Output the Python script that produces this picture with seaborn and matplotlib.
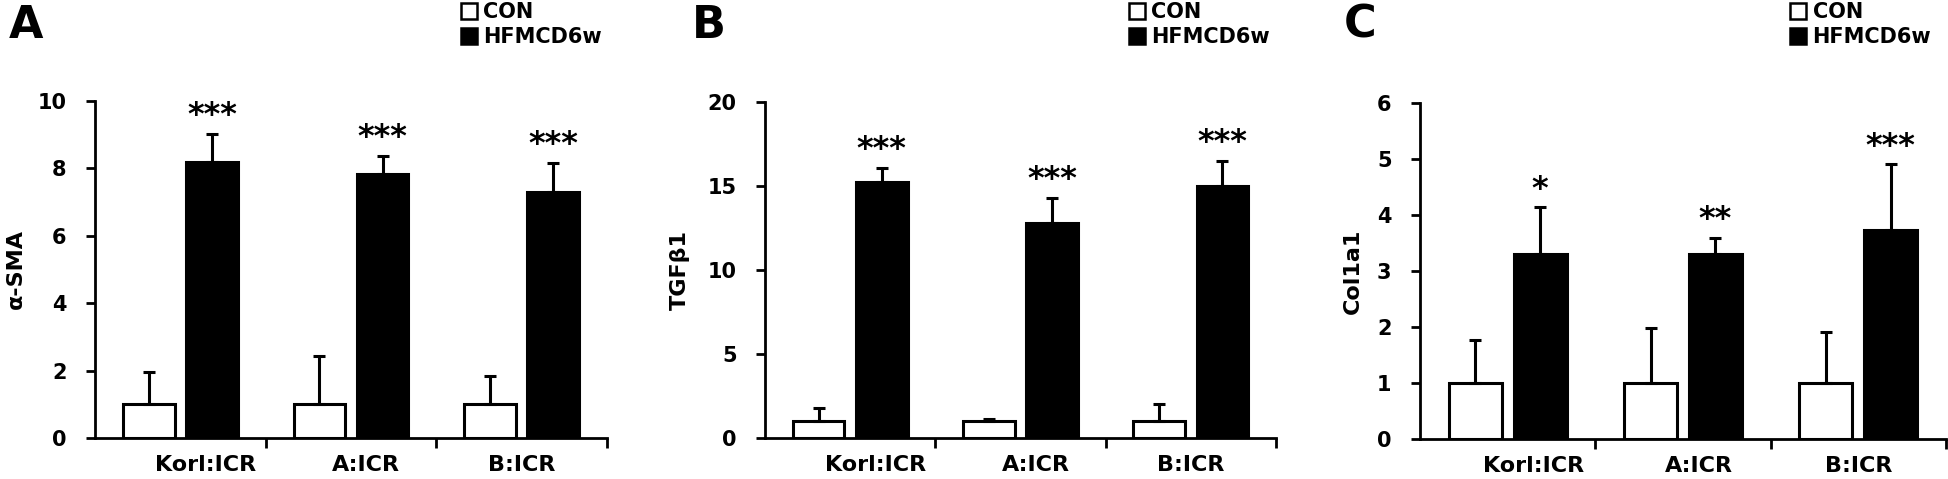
import numpy as np
import pandas as pd
import matplotlib
matplotlib.use("Agg")
import matplotlib.pyplot as plt
from matplotlib.patches import Patch
import seaborn as sns

strains = ["Korl:ICR", "A:ICR", "B:ICR"]
groups = ["CON", "HFMCD6w"]

asma_con = [1.0, 1.0, 1.0]
asma_con_sd = [0.95, 1.42, 0.83]
asma_hf = [8.17, 7.82, 7.28]
asma_hf_sd = [0.85, 0.55, 0.88]
asma_sig = ["***", "***", "***"]

tgf_con = [1.0, 1.0, 1.0]
tgf_con_sd = [0.78, 0.15, 1.02]
tgf_hf = [15.2, 12.77, 14.99]
tgf_hf_sd = [0.88, 1.49, 1.49]
tgf_sig = ["***", "***", "***"]

col_con = [1.0, 1.0, 1.0]
col_con_sd = [0.77, 0.99, 0.91]
col_hf = [3.31, 3.31, 3.74]
col_hf_sd = [0.83, 0.28, 1.17]
col_sig = ["*", "**", "***"]

panels = [
    dict(letter="A", ylabel="α-SMA", ymax=10, step=2,
         con=asma_con, con_sd=asma_con_sd, hf=asma_hf, hf_sd=asma_hf_sd, sig=asma_sig),
    dict(letter="B", ylabel="TGFβ1", ymax=20, step=5,
         con=tgf_con, con_sd=tgf_con_sd, hf=tgf_hf, hf_sd=tgf_hf_sd, sig=tgf_sig),
    dict(letter="C", ylabel="Col1a1", ymax=6, step=1,
         con=col_con, con_sd=col_con_sd, hf=col_hf, hf_sd=col_hf_sd, sig=col_sig),
]

sns.set_theme(style="ticks")
FAM = ["DejaVu Sans"]
plt.rcParams["font.family"] = FAM
plt.rcParams["font.weight"] = "bold"
for key in ["text.color", "axes.labelcolor", "xtick.color", "ytick.color",
            "xtick.labelcolor", "ytick.labelcolor", "axes.edgecolor"]:
    plt.rcParams[key] = "black"

W, H = 1948, 479
fig = plt.figure(figsize=(W / 100, H / 100), dpi=100)

# layout in pixels: axes (left, right, top, bottom), legend anchor, letter, ylabel right edge
boxes = [(95, 607, 100.7, 438), (765, 1276, 101.7, 438), (1420, 1946, 103.3, 439.3)]
legend_px = [(461, 2), (1129, 2), (1790, 2)]
letter_px = [(9, 38), (692, 38), (1344, 38)]
ylabel_px = [26, 690, 1363]
label_offsets = [0.15, 0.09, 0.0]

lw = 2.2
for p, (l, r, t, b), (lx, ly), (tx, ty), yl in zip(panels, boxes, legend_px, letter_px, ylabel_px):
    ax = fig.add_axes([l / W, 1 - b / H, (r - l) / W, (b - t) / H])
    df = pd.DataFrame({
        "strain": strains * 2,
        "group": [groups[0]] * 3 + [groups[1]] * 3,
        "value": p["con"] + p["hf"],
    })
    sns.barplot(data=df, x="strain", y="value", hue="group", hue_order=groups,
                order=strains, palette={"CON": "white", "HFMCD6w": "black"},
                edgecolor="black", linewidth=lw, width=0.74, gap=0.18,
                errorbar=None, saturation=1, legend=False, ax=ax)
    sds = [p["con_sd"], p["hf_sd"]]
    bar_conts = list(ax.containers)[:2]
    for gi, cont in enumerate(bar_conts):
        for j, bar in enumerate(list(cont.patches)):
            x = bar.get_x() + bar.get_width() / 2
            h = bar.get_height()
            sd = sds[gi][j]
            ax.errorbar(x, h, yerr=[[0], [sd]], fmt="none", ecolor="black",
                        elinewidth=lw, capsize=4, capthick=lw, zorder=1)
            if gi == 1:
                ax.annotate(p["sig"][j], xy=(x, h + sd), xytext=(0, 2),
                            textcoords="offset points", ha="center", va="bottom",
                            fontsize=23, fontweight="bold", color="black")
    ax.set_xlim(-0.5, 2.5)
    ax.set_ylim(0, p["ymax"])
    ax.set_yticks(np.arange(0, p["ymax"] + p["step"] / 2, p["step"]))
    ax.set_xticks([i + o for i, o in enumerate(label_offsets)])
    ax.set_xticklabels(strains, fontsize=16, fontweight="bold", color="black")
    ax.set_xticks([0.5, 1.5, 2.5], minor=True)
    ax.tick_params(axis="x", which="major", length=0, pad=12, labelcolor="black")
    ax.tick_params(axis="x", which="minor", length=7, width=2, color="black", direction="out")
    ax.tick_params(axis="y", length=6.5, width=2, color="black", direction="out", pad=14,
                   labelsize=15, labelcolor="black")
    for lab in ax.get_yticklabels():
        lab.set_fontweight("bold")
    ax.set_xlabel("")
    ax.set_ylabel(p["ylabel"], fontsize=16, fontweight="bold", color="black")
    ax.yaxis.set_label_coords((yl - l) / (r - l), 0.5)
    sns.despine(ax=ax)
    for s in ["left", "bottom"]:
        ax.spines[s].set_linewidth(2)
        ax.spines[s].set_color("black")
    handles = [Patch(facecolor="white", edgecolor="black", linewidth=1.8),
               Patch(facecolor="black", edgecolor="black", linewidth=1.8)]
    ax.legend(handles, groups, loc="upper left", bbox_to_anchor=(lx / W, 1 - ly / H),
              bbox_transform=fig.transFigure, frameon=False, borderpad=0,
              borderaxespad=0, handlelength=0.78, handleheight=0.78,
              handletextpad=0.3, labelspacing=0.25, labelcolor="black",
              prop={"size": 15, "weight": "bold"})
    fig.text(tx / W, 1 - ty / H, p["letter"], fontsize=32, fontweight="bold",
             ha="left", va="baseline", color="black")

fig.savefig("out.png", dpi=100)
